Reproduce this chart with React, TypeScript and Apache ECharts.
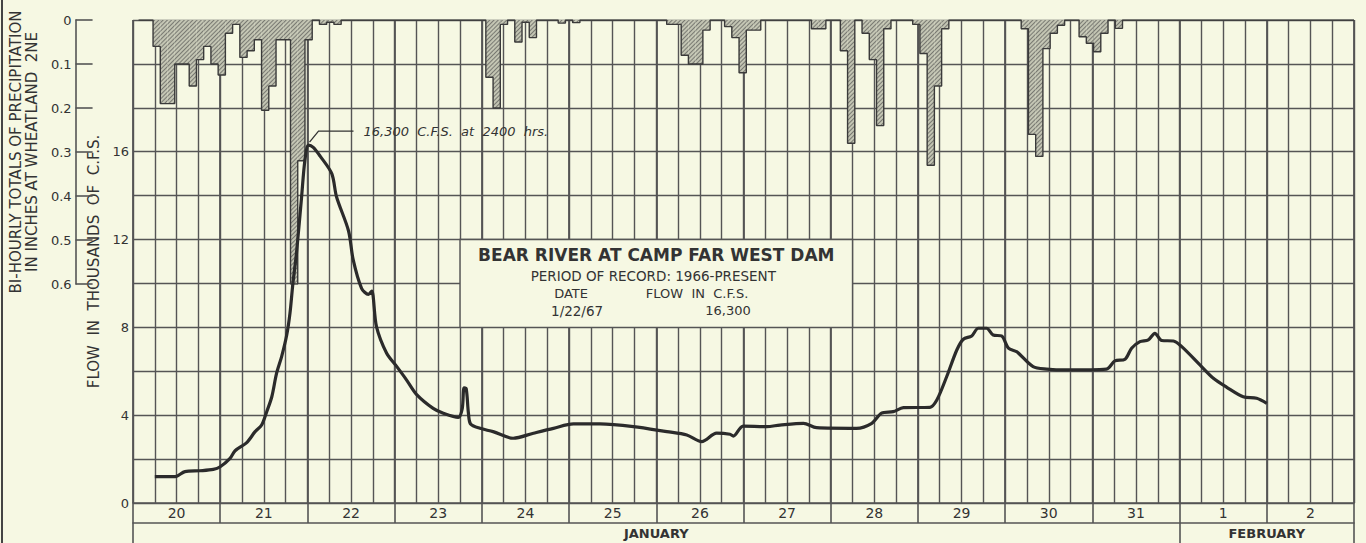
import React, { useEffect, useRef } from 'react';
import * as echarts from 'echarts';

// ---------- data ----------
const dayLabels = ['20', '21', '22', '23', '24', '25', '26', '27', '28', '29', '30', '31', '1', '2'];
const monthLabels = ['JANUARY', 'FEBRUARY'];
const monthCenters = [144, 312]; // hours after 1/20 00:00
const monthBounds = [0, 288, 336];
const flowTickLabels = [0, 4, 8, 12, 16];

// bi-hourly precipitation totals: start hour (after 1/20 00:00) and inches
const precipStart = [
  4, 6, 8, 10, 12, 14, 16, 18, 20, 22, 24, 26, 28, 30, 32, 34, 36, 38, 40, 42, 44, 46,
  50, 52, 54, 96, 98, 100, 104, 106, 108, 116, 120,
  146, 148, 150, 152, 154, 156, 162, 164, 166, 168, 170,
  186, 188, 194, 196, 200, 202, 204, 206,
  214, 216, 218, 220, 222,
  244, 246, 248, 250, 252, 254, 260, 262, 264, 266, 270,
];
const precipInches = [
  0.06, 0.19, 0.19, 0.1, 0.1, 0.15, 0.09, 0.06, 0.1, 0.125, 0.03, 0.01, 0.085, 0.07, 0.045, 0.205, 0.15, 0.045, 0.045, 0.6, 0.32, 0.045,
  0.01, 0.005, 0.01, 0.13, 0.2, 0.01, 0.05, 0.005, 0.04, 0.007, 0.006,
  0.01, 0.01, 0.08, 0.1, 0.1, 0.023, 0.015, 0.04, 0.12, 0.023, 0.023,
  0.02, 0.02, 0.07, 0.28, 0.03, 0.09, 0.24, 0.02,
  0.01, 0.076, 0.33, 0.15, 0.02,
  0.02, 0.26, 0.31, 0.065, 0.03, 0.012, 0.038, 0.053, 0.072, 0.03, 0.019,
];

// flow, thousands of c.f.s.
const flowHours = [
  6, 11.6, 14.3, 18.4, 22.1, 24, 26.7, 28.1, 31.3, 33.6, 35.4, 36.8, 38.2, 39.5, 40.9, 42.3, 43.2, 44, 45, 46.4, 47.3, 48.3,
  49.6, 51.5, 54.7, 56, 59.3, 60.6, 62.9, 64.8, 65.7, 67, 69.8, 72.6, 75.3, 78, 82.6, 85.4, 89.5, 90.6, 91.1, 91.7, 92.3, 92.9,
  95.5, 99.1, 104.6, 110.2, 115.7, 121.2, 128.5, 137.7, 146.9, 152.4, 156.5, 160.6, 164.3, 165.2, 167.9, 174.4, 178, 184.5,
  188.1, 199.1, 203.3, 206, 209.2, 212, 219.3, 221.2, 223.9, 226.7, 228.5, 230.8, 232.6, 234.9, 236.7, 239, 240.9, 243.2,
  247.7, 251.4, 256.9, 267.9, 270.2, 273, 274.8, 277.1, 279.4, 281.2, 283.1, 286.3, 288.6, 293.6, 297.3, 301, 305.5, 309.2, 312,
];
const flowKcfs = [
  1.2, 1.2, 1.43, 1.47, 1.53, 1.65, 2.03, 2.38, 2.75, 3.25, 3.55, 4.16, 4.84, 5.9, 6.67, 7.65, 8.65, 10.0, 11.4, 13.95, 15.6, 16.3,
  16.2, 15.8, 15.0, 13.95, 12.4, 11.07, 9.78, 9.5, 9.65, 8.03, 6.82, 6.21, 5.6, 4.95, 4.31, 4.09, 3.9, 4.3, 5.25, 5.2, 4.1, 3.6,
  3.4, 3.25, 2.95, 3.18, 3.4, 3.6, 3.6, 3.48, 3.25, 3.1, 2.8, 3.18, 3.13, 3.05, 3.5, 3.48, 3.55, 3.63,
  3.43, 3.4, 3.63, 4.09, 4.16, 4.34, 4.36, 4.69, 5.75, 6.97, 7.46, 7.61, 7.96, 7.96, 7.65, 7.61, 7.05, 6.89,
  6.21, 6.1, 6.06, 6.1, 6.47, 6.55, 7.05, 7.35, 7.43, 7.73, 7.4, 7.38, 7.12, 6.29, 5.68, 5.27, 4.84, 4.77, 4.54,
];

// ---------- derived ----------
const TOTAL_HOURS = 336;
const nBins = TOTAL_HOURS / 2;
const precipFull: number[] = new Array(nBins).fill(0);
precipStart.forEach((h, i) => {
  precipFull[h / 2] = precipInches[i];
});
const barData = precipStart.map((h, i) => [h + 1, precipInches[i]]);
const stepData = precipFull.map((v, k) => [2 * k, v]).concat([[TOTAL_HOURS, 0]]);
const flowData = flowHours.map((h, i) => [h, flowKcfs[i]]);
const dayCenters = dayLabels.map((_, i) => i * 24 + 12);
const dayBounds = dayLabels.map((_, i) => i * 24).concat([TOTAL_HOURS]);

const BG = '#f6f8e3';
const INK = '#333333';
const GRIDC = '#555555';
const FONT = 'DejaVu Sans';

const GRID_LEFT = 133;
const GRID_TOP = 20;
const GRID_W = 1221;
const GRID_H = 483;
const PRECIP_H = 264;

export default function App() {
  const ref = useRef<HTMLDivElement>(null);

  useEffect(() => {
    if (!ref.current) return;
    const chart = echarts.init(ref.current, null, { renderer: 'svg' });

    const option: any = {
      animation: false,
      backgroundColor: BG,
      textStyle: { fontFamily: FONT, color: INK },
      grid: [
        { left: GRID_LEFT, top: GRID_TOP, width: GRID_W, height: GRID_H },
        { left: GRID_LEFT, top: GRID_TOP, width: GRID_W, height: PRECIP_H },
      ],
      xAxis: [
        {
          gridIndex: 0,
          type: 'value',
          min: 0,
          max: TOTAL_HOURS,
          interval: 6,
          axisLine: { show: false },
          axisTick: { show: false },
          axisLabel: { show: false },
          splitLine: { show: true, lineStyle: { color: GRIDC, width: 1.4 } },
        },
        {
          gridIndex: 0,
          type: 'value',
          position: 'bottom',
          min: 0,
          max: TOTAL_HOURS,
          interval: 24,
          axisLine: { show: true, onZero: false, lineStyle: { color: GRIDC, width: 1.6 } },
          axisTick: {
            show: true,
            customValues: dayBounds,
            length: 20,
            lineStyle: { color: GRIDC, width: 1.6 },
          },
          axisLabel: {
            show: true,
            customValues: dayCenters,
            formatter: (v: number) => dayLabels[Math.round((v - 12) / 24)] ?? '',
            margin: 3,
            fontSize: 14,
            color: INK,
            fontFamily: FONT,
          },
          splitLine: { show: true, lineStyle: { color: GRIDC, width: 1.8 } },
        },
        {
          gridIndex: 0,
          type: 'value',
          position: 'bottom',
          offset: 20,
          min: 0,
          max: TOTAL_HOURS,
          interval: 24,
          axisLine: { show: true, onZero: false, lineStyle: { color: GRIDC, width: 1.6 } },
          axisTick: {
            show: true,
            customValues: monthBounds,
            length: 20,
            lineStyle: { color: GRIDC, width: 1.6 },
          },
          axisLabel: {
            show: true,
            customValues: monthCenters,
            formatter: (v: number) => monthLabels[monthCenters.indexOf(v)] ?? '',
            margin: 4,
            fontSize: 13,
            fontWeight: 'bold',
            color: INK,
            fontFamily: FONT,
          },
          splitLine: { show: false },
        },
        {
          gridIndex: 1,
          type: 'value',
          min: 0,
          max: TOTAL_HOURS,
          show: false,
          splitLine: { show: false },
        },
      ],
      yAxis: [
        {
          gridIndex: 0,
          type: 'value',
          min: 0,
          max: 22,
          interval: 2,
          axisLine: { show: false, onZero: false },
          axisTick: { show: false },
          axisLabel: {
            margin: 4,
            fontSize: 13,
            color: INK,
            fontFamily: FONT,
            formatter: (v: number) => (flowTickLabels.indexOf(v) >= 0 ? String(v) : ''),
          },
          splitLine: { show: true, lineStyle: { color: GRIDC, width: 1.4 } },
          name: 'FLOW  IN  THOUSANDS  OF  C.F.S.',
          nameLocation: 'middle',
          nameGap: 25,
          nameTextStyle: { fontSize: 15, color: INK, fontFamily: FONT },
        },
        {
          gridIndex: 1,
          type: 'value',
          position: 'left',
          offset: 63,
          inverse: true,
          min: 0,
          max: 0.6,
          interval: 0.1,
          axisLine: { show: true, onZero: false, lineStyle: { color: GRIDC, width: 1.6 } },
          axisTick: { show: true, inside: true, length: 17, lineStyle: { color: GRIDC, width: 1.6 } },
          axisLabel: {
            margin: 4,
            fontSize: 13,
            color: INK,
            fontFamily: FONT,
            formatter: (v: number) => (Math.abs(v) < 1e-9 ? '0' : v.toFixed(1)),
          },
          splitLine: { show: false },
          name: 'BI-HOURLY TOTALS OF PRECIPITATION\nIN INCHES AT WHEATLAND  2NE',
          nameLocation: 'middle',
          nameGap: 30,
          nameTextStyle: { fontSize: 15, lineHeight: 16, color: INK, fontFamily: FONT, align: 'center' },
        },
      ],
      series: [
        {
          type: 'bar',
          xAxisIndex: 3,
          yAxisIndex: 1,
          data: barData,
          barWidth: GRID_W / nBins,
          itemStyle: {
            color: '#c3c5b3',
            decal: {
              symbol: 'rect',
              symbolSize: 1,
              dashArrayX: [1, 0],
              dashArrayY: [1, 2],
              rotation: -Math.PI / 4,
              color: 'rgba(70,70,70,0.6)',
            },
          },
          z: 3,
        },
        {
          type: 'line',
          xAxisIndex: 3,
          yAxisIndex: 1,
          data: stepData,
          step: 'end',
          symbol: 'none',
          lineStyle: { color: '#3a3a3a', width: 1.4 },
          z: 4,
        },
        {
          type: 'line',
          xAxisIndex: 0,
          yAxisIndex: 0,
          data: flowData,
          smooth: 0.3,
          symbol: 'none',
          lineStyle: { color: '#2b2b2b', width: 3.2 },
          z: 6,
        },
      ],
    };
    chart.setOption(option);

    const toPx = (p: number[]) => chart.convertToPixel({ xAxisIndex: 0, yAxisIndex: 0 }, p) as number[];
    const peak = toPx([48.3, 16.3]);
    const boxTL = toPx([90, 12]);
    const boxBR = toPx([198, 8]);
    const bx = boxTL[0];
    const by = boxTL[1];
    const bw = boxBR[0] - boxTL[0];
    const bh = boxBR[1] - boxTL[1];
    const cx = bx + bw / 2;

    const txt = (x: number, y: number, text: string, size: number, extra: any = {}) => ({
      type: 'text',
      x,
      y,
      z: 20,
      style: {
        text,
        fill: INK,
        font: `${extra.italic ? 'italic ' : ''}${extra.weight || 'normal'} ${size}px "${FONT}"`,
        align: extra.align || 'center',
        verticalAlign: 'middle',
      },
    });

    chart.setOption({
      graphic: [
        {
          type: 'line',
          shape: { x1: 2, y1: 0, x2: 2, y2: 543 },
          style: { stroke: '#444', lineWidth: 2 },
          z: 20,
        },
        {
          type: 'rect',
          shape: { x: bx, y: by, width: bw, height: bh },
          style: { fill: BG, stroke: GRIDC, lineWidth: 1.4 },
          z: 10,
        },
        txt(cx, by + 15, 'BEAR RIVER AT CAMP FAR WEST DAM', 17, { weight: 'bold' }),
        txt(cx - 3, by + 36, 'PERIOD OF RECORD: 1966-PRESENT', 13.5),
        txt(bx + 111, by + 54, 'DATE', 13),
        txt(bx + 237, by + 54, 'FLOW  IN  C.F.S.', 13),
        txt(bx + 117, by + 71, '1/22/67', 13.5),
        txt(bx + 268, by + 71, '16,300', 13),
        {
          type: 'polyline',
          shape: {
            points: [
              [peak[0] + 1, peak[1] - 3],
              [peak[0] + 10, peak[1] - 14],
              [peak[0] + 45, peak[1] - 14],
            ],
          },
          style: { stroke: '#333', lineWidth: 1.3, fill: null },
          z: 20,
        },
        txt(peak[0] + 55, peak[1] - 14, '16,300  C.F.S.  at  2400  hrs.', 13, { italic: true, align: 'left' }),
      ],
    });

    return () => {
      chart.dispose();
    };
  }, []);

  return (
    <div
      ref={ref}
      style={{ position: 'absolute', left: 0, top: 0, width: 1366, height: 543 }}
    />
  );
}
